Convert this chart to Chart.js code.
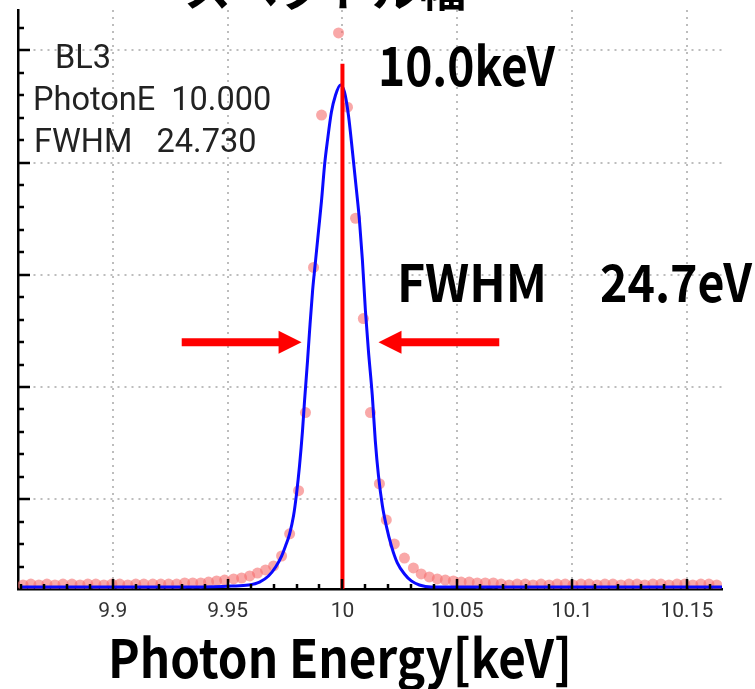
<!DOCTYPE html>
<html>
<head>
<meta charset="utf-8">
<script src="https://cdn.jsdelivr.net/npm/chart.js@4.4.1/dist/chart.umd.min.js"></script>
<style>
  html, body { margin: 0; padding: 0; background: #fff; }
</style>
</head>
<body>
<canvas id="spectre" width="755" height="689"></canvas>
<script>
const measX = [9.8609, 9.8643, 9.8678, 9.8713, 9.8748, 9.8783, 9.8822, 9.8857, 9.8891, 9.8926,
  9.8961, 9.8996, 9.9030, 9.9065, 9.9100, 9.9135, 9.9174, 9.9209, 9.9243, 9.9278,
  9.9313, 9.9348, 9.9383, 9.9417, 9.9452, 9.9487, 9.9526, 9.9561, 9.9596, 9.9630,
  9.9665, 9.9700, 9.9735, 9.9770, 9.9809, 9.9839, 9.9874, 9.9909, 9.9983, 10.0022,
  10.0057, 10.0091, 10.0122, 10.0161, 10.0191, 10.0226, 10.0270, 10.0309, 10.0343, 10.0378,
  10.0413, 10.0448, 10.0483, 10.0517, 10.0552, 10.0587, 10.0622, 10.0657, 10.0691, 10.0726,
  10.0761, 10.0796, 10.0830, 10.0865, 10.0900, 10.0935, 10.0970, 10.1004, 10.1039, 10.1074,
  10.1109, 10.1143, 10.1178, 10.1213, 10.1248, 10.1283, 10.1317, 10.1352, 10.1387, 10.1422,
  10.1457, 10.1491, 10.1526, 10.1561, 10.1596, 10.1630];
const measY = [0.18, 0.22, 0.18, 0.22, 0.18, 0.22, 0.22, 0.18, 0.22, 0.22,
  0.18, 0.22, 0.22, 0.18, 0.22, 0.22, 0.22, 0.22, 0.22, 0.22,
  0.27, 0.27, 0.27, 0.31, 0.36, 0.40, 0.45, 0.49, 0.58, 0.71,
  0.85, 1.03, 1.47, 2.46, 4.38, 7.86, 14.33, 21.12, 24.78, 21.47,
  16.52, 12.05, 7.86, 4.69, 3.08, 2.01, 1.38, 0.94, 0.67, 0.54,
  0.45, 0.40, 0.36, 0.31, 0.31, 0.27, 0.27, 0.27, 0.22, 0.18,
  0.22, 0.22, 0.18, 0.22, 0.18, 0.22, 0.22, 0.18, 0.22, 0.22,
  0.18, 0.22, 0.22, 0.18, 0.22, 0.22, 0.18, 0.22, 0.22, 0.18,
  0.22, 0.22, 0.18, 0.22, 0.22, 0.18];

// Courbe ajustée (bleue)
const fitX = [9.8596, 9.9387, 9.9517, 9.9591, 9.9639, 9.9678, 9.9709, 9.9735, 9.9752, 9.9770,
  9.9787, 9.9800, 9.9813, 9.9826, 9.9835, 9.9848, 9.9857, 9.9870, 9.9883, 9.9896,
  9.9909, 9.9922, 9.9935, 9.9952, 9.9970, 9.9991, 10.0009, 10.0026, 10.0043, 10.0061,
  10.0074, 10.0087, 10.0100, 10.0113, 10.0130, 10.0143, 10.0157, 10.0174, 10.0191, 10.0213,
  10.0239, 10.0270, 10.0300, 10.0335, 10.0387, 10.1657];
const fitY = [0.09, 0.09, 0.13, 0.18, 0.31, 0.58, 0.98, 1.47, 1.92, 2.46,
  3.26, 4.24, 5.49, 7.05, 8.39, 10.18, 11.52, 13.30, 14.64, 15.98,
  17.32, 18.88, 20.00, 21.25, 22.01, 22.46, 22.14, 21.12, 19.55, 17.77,
  16.43, 14.64, 12.41, 10.63, 8.62, 6.61, 5.04, 3.71, 2.81, 1.92,
  1.16, 0.67, 0.36, 0.18, 0.09, 0.09];

const peakE = 10.0;
const peakTop = 23.4;
const halfLevel = 11.0;
const xTickLabels = [9.9, 9.95, 10, 10.05, 10.1, 10.15];
const yGridValues = [4, 9, 14, 19, 24];

const CJK = '"Noto Sans CJK JP", sans-serif';

// petites graduations tournées vers l'intérieur
const inwardTicks = {
  id: 'inwardTicks',
  afterDraw(chart) {
    const { ctx, chartArea: a, scales: { x, y } } = chart;
    ctx.save();
    ctx.strokeStyle = '#000';
    ctx.lineWidth = 2.5;
    ctx.beginPath();
    for (let i = 0; i <= 30; i++) {
      const v = 9.86 + i * 0.01;
      const px = Math.round(x.getPixelForValue(v));
      const major = Math.abs(v * 20 - Math.round(v * 20)) < 1e-6;
      ctx.moveTo(px, a.bottom);
      ctx.lineTo(px, a.bottom - (major ? 10 : 5));
    }
    for (let i = 1; i <= 25; i++) {
      const py = Math.round(y.getPixelForValue(i));
      const major = yGridValues.includes(i);
      ctx.moveTo(a.left, py);
      ctx.lineTo(a.left + (major ? 12 : 6), py);
    }
    ctx.stroke();
    ctx.restore();
  }
};

function arrow(ctx, x1, x2, yy) {
  const dir = Math.sign(x2 - x1);
  const head = 23;
  ctx.beginPath();
  ctx.moveTo(x1, yy - 4);
  ctx.lineTo(x2 - dir * head, yy - 4);
  ctx.lineTo(x2 - dir * head, yy - 11.5);
  ctx.lineTo(x2, yy);
  ctx.lineTo(x2 - dir * head, yy + 11.5);
  ctx.lineTo(x2 - dir * head, yy + 4);
  ctx.lineTo(x1, yy + 4);
  ctx.closePath();
  ctx.fill();
}

// texte gras resserré pour tenir dans une largeur donnée
function boldText(ctx, txt, left, base, size, width) {
  ctx.save();
  ctx.font = 'bold ' + size + 'px ' + CJK;
  ctx.textAlign = 'left';
  const w = ctx.measureText(txt).width;
  ctx.translate(left, base);
  ctx.scale(width / w, 1);
  ctx.fillText(txt, 0, 0);
  ctx.restore();
}

// textes et flèches
const notes = {
  id: 'notes',
  afterDraw(chart) {
    const { ctx, scales: { x, y } } = chart;
    ctx.save();
    ctx.fillStyle = '#ff0000';
    const yy = y.getPixelForValue(halfLevel);
    arrow(ctx, x.getPixelForValue(9.9300), x.getPixelForValue(9.9822), yy);
    arrow(ctx, x.getPixelForValue(10.0683), x.getPixelForValue(10.0157), yy);

    ctx.fillStyle = '#222';
    ctx.textBaseline = 'alphabetic';
    ctx.textAlign = 'left';
    ctx.font = '32.5px Roboto, sans-serif';
    ctx.fillText('BL3', 55, 68);
    ctx.fillText('PhotonE  10.000', 33, 110);
    ctx.fillText('FWHM   24.730', 34, 152);

    ctx.fillStyle = '#000';
    boldText(ctx, '10.0keV', 378, 86, 54, 177);
    boldText(ctx, 'FWHM', 397, 302, 51, 150);
    boldText(ctx, '24.7eV', 600, 302, 52, 152);
    boldText(ctx, 'Photon Energy[keV]', 108, 678, 53, 464);

    ctx.textAlign = 'center';
    ctx.font = 'bold 47px ' + CJK;
    ctx.fillText('スペクトル幅', 325, 6);
    ctx.restore();
  }
};

const ctx = document.getElementById('spectre').getContext('2d');
new Chart(ctx, {
  type: 'scatter',
  data: {
    datasets: [
      {
        label: 'pic',
        data: [{ x: peakE, y: 0 }, { x: peakE, y: peakTop }],
        showLine: true,
        borderColor: '#ff0000',
        borderWidth: 4,
        pointRadius: 0
      },
      {
        label: 'ajustement',
        data: fitX.map((v, i) => ({ x: v, y: fitY[i] })),
        showLine: true,
        borderColor: '#0a0aff',
        borderWidth: 3,
        pointRadius: 0,
        cubicInterpolationMode: 'monotone'
      },
      {
        label: 'mesure',
        data: measX.map((v, i) => ({ x: v, y: measY[i] })),
        pointRadius: 5.5,
        pointBackgroundColor: 'rgba(245,110,110,0.6)',
        pointBorderWidth: 0
      }
    ]
  },
  options: {
    responsive: false,
    animation: false,
    devicePixelRatio: 1,
    layout: { padding: { left: 18, right: 33, top: 10, bottom: 54.8 } },
    plugins: { legend: { display: false }, tooltip: { enabled: false } },
    scales: {
      x: {
        type: 'linear',
        min: 9.8587,
        max: 10.1653,
        afterBuildTicks: s => { s.ticks = xTickLabels.map(v => ({ value: v })); },
        ticks: {
          autoSkip: false,
          maxRotation: 0,
          padding: 10,
          color: '#333',
          font: { family: 'Roboto', size: 21 },
          callback: v => String(v)
        },
        grid: { color: '#bdbdbd', lineWidth: 2, drawTicks: false },
        border: { color: '#000', width: 2.5, dash: [2, 5] }
      },
      y: {
        min: 0,
        max: 25.8,
        afterBuildTicks: s => { s.ticks = yGridValues.map(v => ({ value: v })); },
        ticks: { display: false },
        grid: { color: '#bdbdbd', lineWidth: 2, drawTicks: false },
        border: { color: '#000', width: 2.5, dash: [2, 5] }
      }
    }
  },
  plugins: [inwardTicks, notes]
});
</script>
</body>
</html>
